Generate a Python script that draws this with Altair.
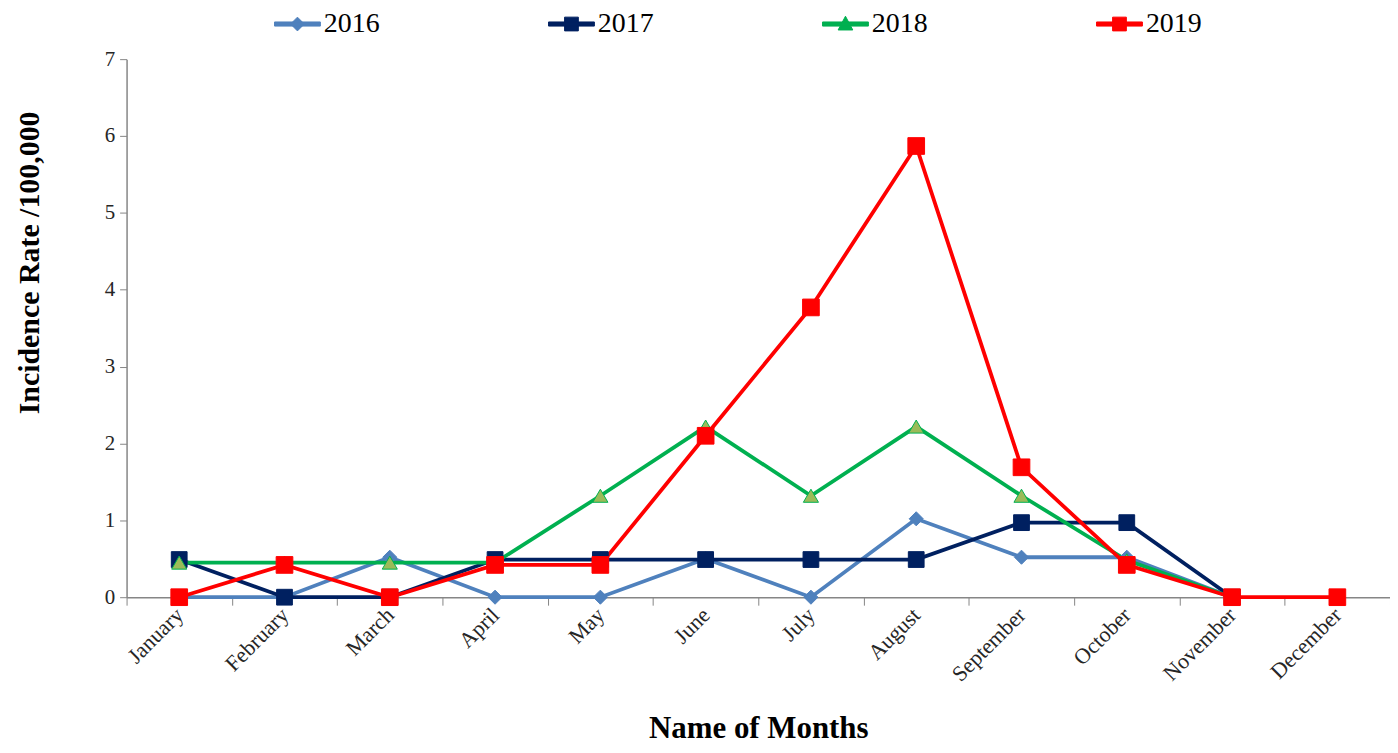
import altair as alt
import pandas as pd

months = ["January", "February", "March", "April", "May", "June", "July",
          "August", "September", "October", "November", "December"]
years = ["2016", "2017", "2018", "2019"]
rate_2016 = [0, 0, 0.52, 0, 0, 0.5, 0, 1.02, 0.52, 0.52, 0, None]
rate_2017 = [0.49, 0, 0, 0.49, 0.49, 0.49, 0.49, 0.49, 0.97, 0.97, 0, None]
rate_2018 = [0.45, 0.45, 0.45, 0.45, 1.32, 2.22, 1.32, 2.22, 1.32, 0.48, 0, None]
rate_2019 = [0, 0.42, 0, 0.42, 0.42, 2.1, 3.77, 5.87, 1.69, 0.42, 0, 0]

line_colors = ["#4F81BD", "#002060", "#00B050", "#FF0000"]
marker_fills = ["#4F81BD", "#002060", "#9BBB59", "#FF0000"]
marker_shapes = ["diamond", "square", "triangle-up", "square"]
marker_sizes = [200, 250, 230, 280]

rows = []
for y, vals in zip(years, [rate_2016, rate_2017, rate_2018, rate_2019]):
    for m, v in zip(months, vals):
        if v is not None:
            rows.append({"Month": m, "Year": y, "Rate": v})
df = pd.DataFrame(rows)

FONT = "Liberation Serif"

bar = "M-1,-0.09H1V0.09H-1Z "
sym_paths = {
    "2016": bar + "M0,-0.3L0.3,0L0,0.3L-0.3,0Z",
    "2017": bar + "M-0.3,-0.3H0.3V0.3H-0.3Z",
    "2018": bar + "M0,-0.34L0.32,0.26H-0.32Z",
    "2019": bar + "M-0.3,-0.3H0.3V0.3H-0.3Z",
}
sym_expr = ("datum.value === '2016' ? '{a}' : datum.value === '2017' ? '{b}' : "
            "datum.value === '2018' ? '{c}' : '{d}'").format(
    a=sym_paths["2016"], b=sym_paths["2017"], c=sym_paths["2018"], d=sym_paths["2019"])
fill_expr = ("datum.value === '2016' ? '{a}' : datum.value === '2017' ? '{b}' : "
             "datum.value === '2018' ? '{c}' : '{d}'").format(
    a=line_colors[0], b=line_colors[1], c=line_colors[2], d=line_colors[3])

legend = alt.Legend(
    title=None, orient="none", direction="horizontal", columns=4,
    legendX=148, legendY=-59, padding=0,
    columnPadding=167, labelOffset=3,
    labelFont=FONT, labelFontSize=28, labelColor="#000000",
    symbolSize=2116, symbolStrokeWidth=1,
    symbolType=alt.ExprRef(expr=sym_expr),
    symbolFillColor=alt.ExprRef(expr=fill_expr),
)

x_enc = alt.X(
    "Month:N", sort=months,
    scale=alt.Scale(type="band", domain=months, paddingInner=0, paddingOuter=0),
    axis=alt.Axis(
        title="Name of Months", tickBand="extent", labelAngle=315,
        labelAlign="right", labelBaseline="middle", labelPadding=6,
        labelFont=FONT, labelFontSize=22, labelColor="#262626",
        titleFont=FONT, titleFontSize=31, titleFontWeight="bold", titleColor="#000000",
        titleY=132, titleBaseline="middle",
        domainColor="#868686", tickColor="#868686", tickSize=8, domainWidth=1.5,
    ),
)
y_enc = alt.Y(
    "Rate:Q",
    scale=alt.Scale(domain=[0, 7], nice=False),
    axis=alt.Axis(
        title="Incidence Rate /100,000", values=[0, 1, 2, 3, 4, 5, 6, 7], grid=False,
        labelFont=FONT, labelFontSize=21, labelColor="#262626", labelPadding=5,
        titleFont=FONT, titleFontSize=30, titleFontWeight="bold", titleColor="#000000",
        titleX=-97, titleY=204, titleBaseline="middle", titleAlign="center", titleAngle=270,
        domainColor="#868686", tickColor="#868686", tickSize=7, domainWidth=1.5,
    ),
)
stroke_enc = alt.Stroke("Year:N", scale=alt.Scale(domain=years, range=line_colors), legend=legend)

base = alt.Chart(df)
layers = []
for i, y in enumerate(years):
    sub = base.transform_filter(alt.datum.Year == y)
    layers.append(sub.mark_line(strokeWidth=3.8).encode(x=x_enc, y=y_enc, stroke=stroke_enc))
for i, y in enumerate(years):
    sub = base.transform_filter(alt.datum.Year == y)
    layers.append(sub.mark_point(
        filled=True, opacity=1, strokeWidth=1, shape=marker_shapes[i], size=marker_sizes[i],
        fill=marker_fills[i], stroke=line_colors[i]).encode(x=x_enc, y=y_enc))

chart = alt.layer(*layers).properties(
    width=1268, height=540,
    autosize=alt.AutoSizeParams(type="none"),
    padding={"left": 119, "top": 50, "right": 0, "bottom": 147},
).configure_view(stroke=None)

chart.save("out.html", embed_options={"renderer": "svg", "actions": False})
